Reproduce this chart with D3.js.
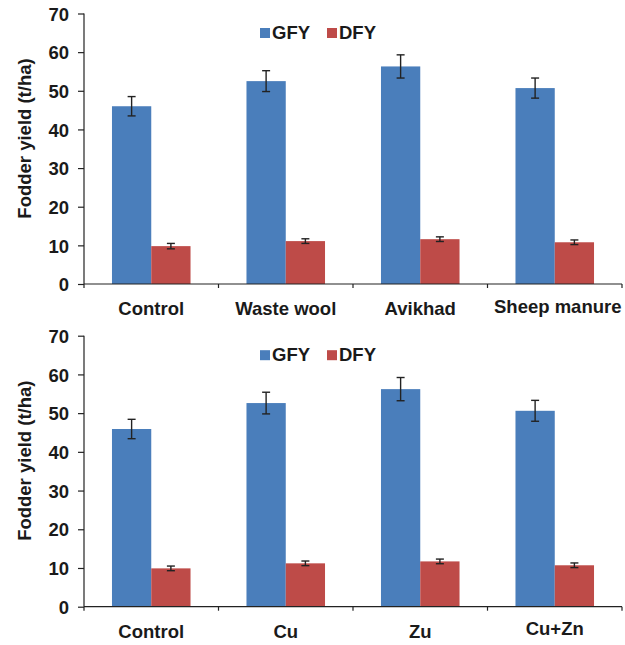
<!DOCTYPE html>
<html>
<head>
<meta charset="utf-8">
<script src="https://cdn.jsdelivr.net/npm/d3@7"></script>
<style>
  html, body { margin: 0; padding: 0; background: #fff; }
  svg { display: block; }
  text { font-family: "Liberation Sans", Arial, sans-serif; font-weight: bold; fill: #1a1a1a; }
</style>
</head>
<body>
<svg id="chart" width="625" height="645"></svg>
<script>
// ---- data ----
const seriesNames = ["GFY", "DFY"];
const categoriesTop = ["Control", "Waste wool", "Avikhad", "Sheep manure"];
const categoriesBottom = ["Control", "Cu", "Zu", "Cu+Zn"];
const gfyTop = [46.0, 52.5, 56.3, 50.7];
const gfyTopErr = [2.5, 2.7, 3.0, 2.6];
const dfyTop = [9.8, 11.1, 11.6, 10.8];
const dfyTopErr = [0.7, 0.6, 0.6, 0.6];
const gfyBottom = [45.9, 52.6, 56.2, 50.6];
const gfyBottomErr = [2.5, 2.8, 3.0, 2.7];
const dfyBottom = [9.9, 11.2, 11.7, 10.7];
const dfyBottomErr = [0.6, 0.6, 0.6, 0.6];
const yTicks = [0, 10, 20, 30, 40, 50, 60, 70];
const yTitle = "Fodder yield (t/ha)";

const colors = { GFY: "#4a7ebb", DFY: "#be4b48" };
const axisColor = "#222";
const fs = 18.5;

const svg = d3.select("#chart");

function drawPanel(top, bottom, categories, gfy, gfyErr, dfy, dfyErr) {
  const g = svg.append("g");
  const x = d3.scaleBand().domain(categories).range([84, 622]).paddingInner(0).paddingOuter(0);
  const bw = x.bandwidth();
  const x1 = d3.scaleBand().domain(seriesNames).range([0.208 * bw, 0.792 * bw]).padding(0);
  const y = d3.scaleLinear().domain([0, 70]).range([bottom, top]);

  const rows = [];
  categories.forEach((c, i) => {
    rows.push({ cat: c, s: "GFY", v: gfy[i], e: gfyErr[i] });
    rows.push({ cat: c, s: "DFY", v: dfy[i], e: dfyErr[i] });
  });

  // bars
  g.selectAll("rect.bar").data(rows).join("rect")
    .attr("class", "bar")
    .attr("x", d => x(d.cat) + x1(d.s))
    .attr("width", x1.bandwidth())
    .attr("y", d => y(d.v))
    .attr("height", d => y(0) - y(d.v))
    .attr("fill", d => colors[d.s]);

  // error bars
  const eb = g.selectAll("g.err").data(rows).join("g").attr("class", "err")
    .attr("stroke", "#222").attr("stroke-width", 1.4);
  const cx = d => x(d.cat) + x1(d.s) + x1.bandwidth() / 2;
  eb.append("line").attr("x1", cx).attr("x2", cx)
    .attr("y1", d => y(d.v + d.e)).attr("y2", d => y(d.v - d.e));
  eb.append("line").attr("x1", d => cx(d) - 4).attr("x2", d => cx(d) + 4)
    .attr("y1", d => y(d.v + d.e)).attr("y2", d => y(d.v + d.e));
  eb.append("line").attr("x1", d => cx(d) - 4).attr("x2", d => cx(d) + 4)
    .attr("y1", d => y(d.v - d.e)).attr("y2", d => y(d.v - d.e));

  // y axis
  const ya = g.append("g").attr("transform", "translate(84,0)")
    .call(d3.axisLeft(y).tickValues(yTicks).tickSize(6).tickPadding(9).tickFormat(d3.format("d")));
  ya.select(".domain").attr("stroke", axisColor).attr("stroke-width", 1.2).attr("d", `M0,${top}V${bottom}`);
  ya.selectAll(".tick line").attr("stroke", axisColor).attr("stroke-width", 1.2);
  ya.selectAll(".tick text").attr("font-size", fs).attr("font-family", null).attr("fill", "#1a1a1a").attr("dy", "0.36em");

  // x axis
  const boundaries = categories.map(c => x(c)).concat([x.range()[1]]);
  g.append("line").attr("x1", 84).attr("x2", 622).attr("y1", bottom).attr("y2", bottom)
    .attr("stroke", axisColor).attr("stroke-width", 1.2);
  g.selectAll("line.xtick").data(boundaries).join("line").attr("class", "xtick")
    .attr("x1", d => d).attr("x2", d => d).attr("y1", bottom).attr("y2", bottom + 4)
    .attr("stroke", axisColor).attr("stroke-width", 1.2);
  g.selectAll("text.xlab").data(categories).join("text").attr("class", "xlab")
    .attr("x", d => x(d) + bw / 2 + (d === "Sheep manure" ? 3 : 0))
    .attr("y", d => bottom + 31 - ((d === "Sheep manure" || d === "Cu+Zn") ? 2.5 : 0))
    .attr("text-anchor", "middle").attr("font-size", fs)
    .text(d => d);

  // y title
  g.append("text")
    .attr("transform", `translate(31,${top + 125}) rotate(-90)`)
    .attr("text-anchor", "middle").attr("font-size", fs)
    .text(yTitle);

  // legend
  const leg = g.selectAll("g.leg").data(seriesNames).join("g").attr("class", "leg")
    .attr("transform", (d, i) => `translate(${260 + i * 67},${top + 14.5})`);
  leg.append("rect").attr("width", 10).attr("height", 10).attr("fill", d => colors[d]);
  leg.append("text").attr("x", 12).attr("y", 11).attr("font-size", fs).text(d => d);
}

drawPanel(13.5, 284, categoriesTop, gfyTop, gfyTopErr, dfyTop, dfyTopErr);
drawPanel(335.7, 606.7, categoriesBottom, gfyBottom, gfyBottomErr, dfyBottom, dfyBottomErr);
</script>
</body>
</html>
